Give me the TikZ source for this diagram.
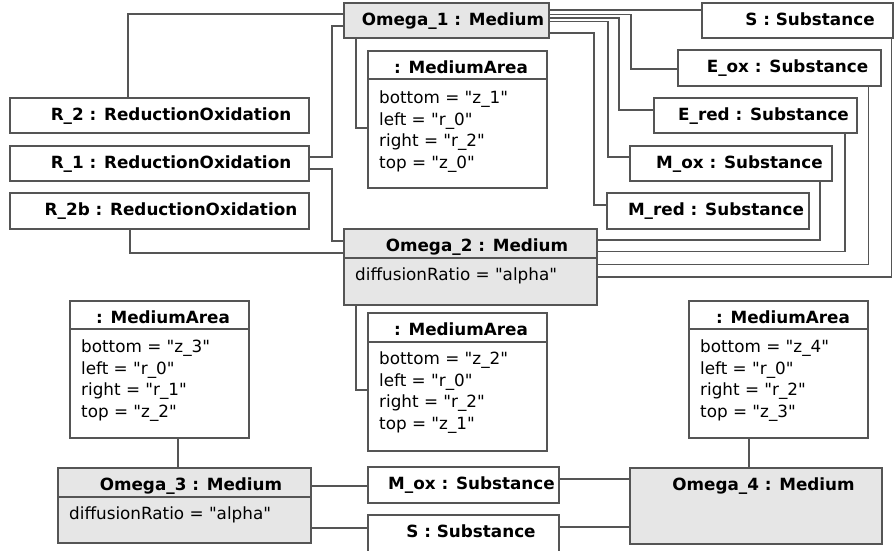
\documentclass[tikz,border=0pt]{standalone}
\usepackage{fontspec}
% a family of its own keeps the straight quotes of the attribute values
\newfontfamily\dejavu{DejaVu Sans}
\usetikzlibrary{calc}

\definecolor{edge}{RGB}{85,85,85}
\definecolor{medfill}{RGB}{230,230,230}
\newcommand\diafont{\dejavu\fontsize{16.8}{20}\selectfont}

\tikzset{
  objbox/.style={draw=edge, line width=1.3pt, outer sep=0pt, inner sep=0pt, anchor=north west},
  plainobj/.style={objbox, fill=white},
  mediumobj/.style={objbox, fill=medfill},
  ttl/.style={anchor=base, inner sep=0pt, font=\diafont\bfseries},
  attr/.style={anchor=base west, inner sep=0pt, font=\diafont},
  link/.style={draw=edge, line width=1.3pt},
}

% object box: style, name, left, top, right, bottom, title centre x, title
\newcommand\umlobject[8]{%
  \node[#1, minimum width={#5pt-#3pt}, minimum height={#6pt-#4pt}] (#2) at (#3,#4) {};
  \node[ttl] (#2-title) at (#7,{#4+22.5}) {#8};
}
% line between the title and the attribute compartment
\newcommand\umldivider[2]{%
  \draw[link] ($(#1.north west)+(0,#2)$) -- ($(#1.north east)+(0,#2)$);
}
% four attribute lines of a MediumArea
\newcommand\umlarea[7]{%
  \node[attr] (#1-a1) at (#2,#3) {#4};
  \node[attr] (#1-a2) at (#2,{#3+21.7}) {#5};
  \node[attr] (#1-a3) at (#2,{#3+43.4}) {#6};
  \node[attr] (#1-a4) at (#2,{#3+65.1}) {#7};
}

\begin{document}
\begin{tikzpicture}[x=1pt, y=-1pt]
\useasboundingbox (0,0) rectangle (895,550);
\clip (0,0) rectangle (895,550);

% objects
\umlobject{mediumobj}{o1}{344}{3}{549}{38}{453}{Omega\_1 : Medium}
\umlobject{plainobj}{st}{702}{3}{893}{38}{810}{S : Substance}
\umlobject{plainobj}{eox}{678}{50}{881}{86}{787.5}{E\_ox : Substance}
\umlobject{plainobj}{ered}{654}{98}{857}{133}{763.5}{E\_red : Substance}
\umlobject{plainobj}{mox}{630}{146}{832}{181}{739.5}{M\_ox : Substance}
\umlobject{plainobj}{mred}{607}{193}{809}{229}{716}{M\_red : Substance}
\umlobject{plainobj}{r2}{10}{98}{309}{133}{171}{R\_2 : ReductionOxidation}
\umlobject{plainobj}{r1}{10}{146}{309}{181}{171}{R\_1 : ReductionOxidation}
\umlobject{plainobj}{r2b}{10}{193}{309}{229}{171}{R\_2b : ReductionOxidation}
\umlobject{plainobj}{ma1}{368}{51}{547}{188}{461}{: MediumArea}
\umlobject{mediumobj}{o2}{344}{229}{597}{305}{477}{Omega\_2 : Medium}
\umlobject{plainobj}{ma2}{368}{313}{547}{451}{461}{: MediumArea}
\umlobject{plainobj}{ma3}{70}{301}{249}{438}{163}{: MediumArea}
\umlobject{plainobj}{ma4}{689}{301}{868}{438}{783}{: MediumArea}
\umlobject{mediumobj}{o3}{58}{468}{311}{543}{191}{Omega\_3 : Medium}
\umlobject{mediumobj}{o4}{630}{468}{882}{544}{763.5}{Omega\_4 : Medium}
\umlobject{plainobj}{moxb}{368}{467}{559}{503}{471.5}{M\_ox : Substance}
\umlobject{plainobj}{sb}{368}{515}{559}{565}{471}{S : Substance}

% compartments
\umldivider{ma1}{28}
\umldivider{o2}{29}
\umldivider{ma2}{29}
\umldivider{ma3}{28}
\umldivider{ma4}{28}
\umldivider{o3}{29}

% attributes
\umlarea{ma1}{379}{103.5}{bottom = "z\_1"}{left = "r\_0"}{right = "r\_2"}{top = "z\_0"}
\umlarea{ma2}{379}{364.5}{bottom = "z\_2"}{left = "r\_0"}{right = "r\_2"}{top = "z\_1"}
\umlarea{ma3}{81}{352.5}{bottom = "z\_3"}{left = "r\_0"}{right = "r\_1"}{top = "z\_2"}
\umlarea{ma4}{700}{352.5}{bottom = "z\_4"}{left = "r\_0"}{right = "r\_2"}{top = "z\_3"}
\node[attr] (o2-a1) at (355,280) {diffusionRatio = "alpha"};
\node[attr] (o3-a1) at (69,519) {diffusionRatio = "alpha"};

% links of Omega_1
\draw[link] ($(o1.north west)+(0,11)$) -| ($(r2.north west)+(118,0)$);
\draw[link] ($(o1.north west)+(0,23)$) -- ++(-12,0) |- ($(r1.north east)+(0,11)$);
\draw[link] ($(o1.south west)+(12,0)$) |- ($(ma1.north west)+(0,77)$);
\draw[link] ($(o1.north east)+(0,7)$) -- ($(st.north west)+(0,7)$);
\draw[link] ($(o1.north east)+(0,11.5)$) -| ($(eox.north west)+(-47,19)$) -- ($(eox.north west)+(0,19)$);
\draw[link] ($(o1.north east)+(0,15)$) -| ($(ered.north west)+(-35,12)$) -- ($(ered.north west)+(0,12)$);
\draw[link] ($(o1.north east)+(0,18.5)$) -| ($(mox.north west)+(-22,11)$) -- ($(mox.north west)+(0,11)$);
\draw[link] ($(o1.north east)+(0,30)$) -| ($(mred.north west)+(-13,12)$) -- ($(mred.north west)+(0,12)$);

% links of Omega_2
\draw[link] ($(r1.north east)+(0,23)$) -- ++(23,0) |- ($(o2.north west)+(0,12)$);
\draw[link] ($(r2b.south west)+(120,0)$) |- ($(o2.north west)+(0,24)$);
\draw[link] ($(o2.south west)+(12,0)$) |- ($(ma2.north west)+(0,77)$);
\draw[link] ($(o2.north east)+(0,11)$) -| ($(mox.south east)+(-12,0)$);
\draw[link] ($(o2.north east)+(0,22.5)$) -| ($(ered.south east)+(-12,0)$);
\draw[link] ($(o2.north east)+(0,35.5)$) -| ($(eox.south east)+(-12.5,0)$);
\draw[link] ($(o2.north east)+(0,48)$) -| ($(st.south east)+(-1.5,0)$);

% links of Omega_3 and Omega_4
\draw[link] ($(ma3.south west)+(108,0)$) -- ($(o3.north west)+(120,0)$);
\draw[link] ($(ma4.south west)+(60,0)$) -- ($(o4.north west)+(119,0)$);
\draw[link] ($(o3.north east)+(0,18)$) -- ($(moxb.north west)+(0,19)$);
\draw[link] ($(o3.north east)+(0,60)$) -- ($(sb.north west)+(0,13)$);
\draw[link] ($(moxb.north east)+(0,12)$) -- ($(o4.north west)+(0,11)$);
\draw[link] ($(sb.north east)+(0,12)$) -- ($(o4.north west)+(0,59)$);
\end{tikzpicture}
\end{document}
